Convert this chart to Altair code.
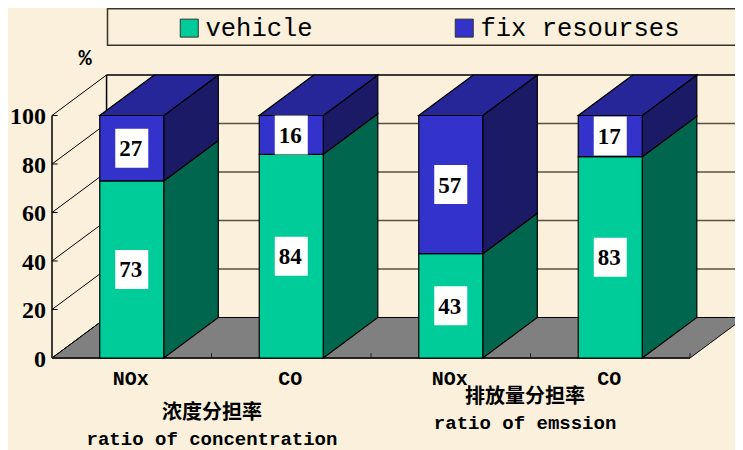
import altair as alt
import pandas as pd

groups = ["NOx", "CO", "NOx", "CO"]
vehicle = [73, 84, 43, 83]
fix_res = [27, 16, 57, 17]
series = ["vehicle", "fix resourses"]
y_ticks = [0, 20, 40, 60, 80, 100]
group_titles = ["浓度分担率", "排放量分担率"]
group_subtitles = ["ratio of concentration", "ratio of emssion"]

# layout constants in data units (x: one category = 1, y: percent)
DX, DY, BW = 0.342, 16.7, 0.4013
XDOM = [-0.2759, 4.2821]
YDOM = [-37.94, 144.33]
C_GREEN, C_GREEN_S = "#00CC99", "#00664D"
C_BLUE, C_BLUE_S, C_BLUE_T = "#3333CC", "#1A1A66", "#262699"
BG = "#FAF0DC"
MONO, SERIF, CJK = "Liberation Mono", "Liberation Serif", "Noto Sans CJK SC"

sx = alt.Scale(domain=XDOM, nice=False, zero=False)
sy = alt.Scale(domain=YDOM, nice=False, zero=False)
X = alt.X("x:Q", scale=sx, axis=None)
Y = alt.Y("y:Q", scale=sy, axis=None)


def rules(rows, color, width):
    df = pd.DataFrame(rows, columns=["x", "x2", "y", "y2"])
    return alt.Chart(df).mark_rule(color=color, strokeWidth=width, clip=True).encode(
        x=X, x2="x2:Q", y=Y, y2="y2:Q")


# stacked segments
segs = []
for i, (v, f) in enumerate(zip(vehicle, fix_res)):
    left = i + 0.5 - BW / 2
    segs.append(dict(i=i, s=series[0], x=left, x2=left + BW, y=0, y2=v, cx=i + .5, cy=v / 2, v=v))
    segs.append(dict(i=i, s=series[1], x=left, x2=left + BW, y=v, y2=v + f, cx=i + .5, cy=v + f / 2, v=f))
seg_df = pd.DataFrame(segs)

# side faces
side_rows = []
for k, s in enumerate(segs):
    for t in (0, 1):
        side_rows.append(dict(id=k, s=s["s"], x=s["x2"] + t * DX, y=s["y"] + t * DY, y2=s["y2"] + t * DY))
side_df = pd.DataFrame(side_rows)

# top faces
top_rows = []
for i in range(len(groups)):
    left = i + 0.5 - BW / 2
    for t in (0, 1):
        top_rows.append(dict(id=i, y=100 + t * DY, x=left + t * DX, x2=left + BW + t * DX))
top_df = pd.DataFrame(top_rows)

floor_df = pd.DataFrame([dict(y=0, x=0, x2=4), dict(y=DY, x=DX, x2=4 + DX)])

floor = alt.Chart(floor_df).mark_area(
    orient="horizontal", fill="#808080", stroke="#000000", strokeWidth=1, clip=True
).encode(y=Y, x=X, x2="x2:Q")

grid = rules([[DX, 4 + DX, t + DY, t + DY] for t in y_ticks if 0 < t < 100], "#5C5040", 1.5)
walltop = rules([[DX, 4 + DX, 100 + DY, 100 + DY], [DX, DX, DY, 100 + DY]], "#000000", 1.5)
diag = rules([[0, DX, t, t + DY] for t in y_ticks], "#000000", 1)
vaxis = rules([[0, 0, 0, 100]], "#000000", 1.5)
vticks = rules([[0, 0.035, t, t] for t in y_ticks], "#000000", 1)
haxis = rules([[0, 4, 0, 0]], "#222222", 2)
cticks = rules([[c, c, 0, 2] for c in range(1, 5)], "#222222", 1)

side = alt.Chart(side_df).mark_area(stroke="#000000", strokeWidth=1.2).encode(
    x=X, y=Y, y2="y2:Q", detail="id:N",
    fill=alt.Fill("s:N", scale=alt.Scale(domain=series, range=[C_GREEN_S, C_BLUE_S]), legend=None),
)
top = alt.Chart(top_df).mark_area(
    orient="horizontal", fill=C_BLUE_T, stroke="#000000", strokeWidth=1.2
).encode(y=Y, x=X, x2="x2:Q", detail="id:N")

front = alt.Chart(seg_df).mark_rect(stroke="#000000", strokeWidth=1.2).encode(
    x=X, x2="x2:Q", y=Y, y2="y2:Q",
    color=alt.Color("s:N", sort=series,
                    scale=alt.Scale(domain=series, range=[C_GREEN, C_BLUE]),
                    legend=alt.Legend(
                        title=None, orient="none", direction="horizontal", columns=2,
                        legendX=168.5, legendY=7, padding=0, columnPadding=138,
                        symbolType="square", symbolSize=324, symbolStrokeColor="#333333",
                        symbolStrokeWidth=1, symbolOpacity=1, labelFont=MONO, labelFontSize=25.5,
                        labelColor="#000000", labelOffset=3.5, labelLimit=400)),
)

cx = alt.X("cx:Q", scale=sx, axis=None)
cy = alt.Y("cy:Q", scale=sy, axis=None)
boxes = alt.Chart(seg_df).mark_rect(width=33, height=39, fill="#FFFFFF").encode(x=cx, y=cy)
nums = alt.Chart(seg_df).mark_text(font=SERIF, fontSize=23, fontWeight="bold", color="#000000", dx=-1, dy=1).encode(
    x=cx, y=cy, text="v:Q")

legend_box = alt.Chart(pd.DataFrame([dict(x=0.3480, x2=4.4, y=144.0, y2=129.0)])).mark_rect(
    fill=BG, stroke="#3A3428", strokeWidth=1.5, clip=True
).encode(x=X, x2="x2:Q", y=Y, y2="y2:Q")

cat_df = pd.DataFrame(dict(x=[i + .5 for i in range(4)], y=[-8.7] * 4, t=groups))
cats = alt.Chart(cat_df).mark_text(font=MONO, fontSize=20, fontWeight="bold", color="#000000", dx=-1).encode(
    x=X, y=Y, text="t:N")

title_df = pd.DataFrame(dict(x=[1.003, 2.966], y=[-22.7, -16.0], t=group_titles))
titles = alt.Chart(title_df).mark_text(font=CJK, fontSize=20, fontWeight="bold", color="#000000").encode(
    x=X, y=Y, text="t:N")
sub_df = pd.DataFrame(dict(x=[1.003, 2.966], y=[-33.4, -26.8], t=group_subtitles))
subs = alt.Chart(sub_df).mark_text(font=MONO, fontSize=19, fontWeight="bold", color="#000000").encode(
    x=X, y=Y, text="t:N")

pct = alt.Chart(pd.DataFrame(dict(x=[0.207], y=[123.6], t=["%"]))).mark_text(
    font=MONO, fontSize=22, fontWeight="bold", color="#000000").encode(x=X, y=Y, text="t:N")

ylab_df = pd.DataFrame(dict(y=y_ticks, x=[-0.0376] * len(y_ticks)))
ylabels = alt.Chart(ylab_df).mark_text(
    font=SERIF, fontSize=24, fontWeight="bold", color="#000000", align="right", dy=2
).encode(x=X, y=Y, text="y:Q")

chart = alt.layer(
    legend_box, floor, grid, walltop, diag, vaxis, vticks, haxis, cticks,
    side, top, front, boxes, nums, cats, titles, subs, pct, ylabels,
).resolve_scale(color="independent", fill="independent").properties(
    width=727, height=442, padding=0, autosize="none", background=BG
).configure_view(stroke=None)

chart.save("out.html", embed_options={"renderer": "svg", "actions": False})
